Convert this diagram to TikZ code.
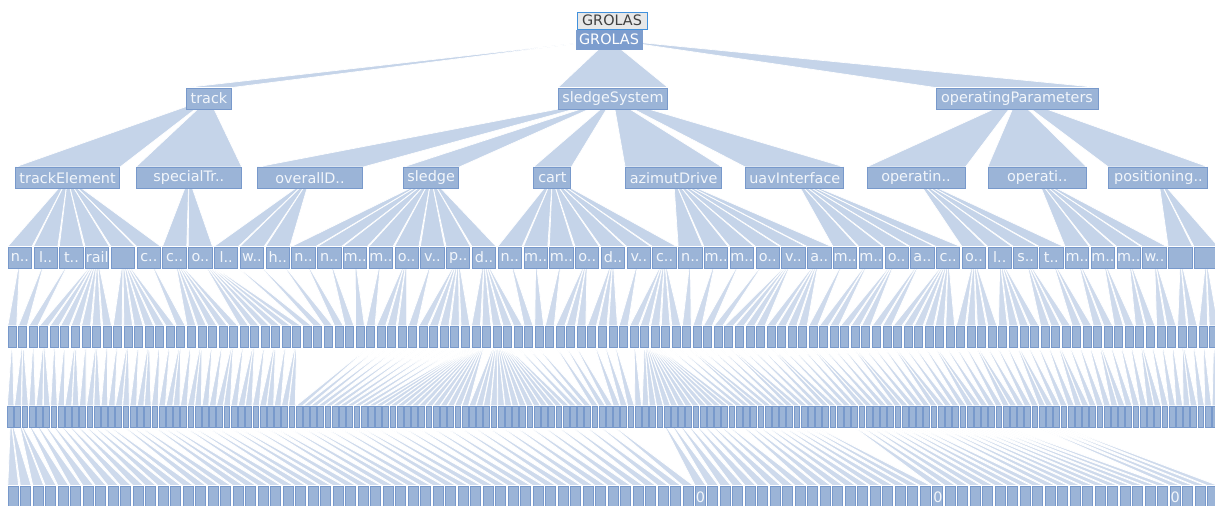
\documentclass[tikz,border=0pt]{standalone}
\usepackage{fontspec}
\setmainfont{DejaVu Sans}
\usetikzlibrary{backgrounds}

\definecolor{nodefill}{RGB}{155,180,215}
\definecolor{nodeline}{RGB}{120,153,203}
\definecolor{linkfill}{RGB}{197,212,233}
\definecolor{rootfill}{RGB}{124,157,206}
\definecolor{tipfill}{RGB}{232,232,232}
\definecolor{tipline}{RGB}{66,145,220}
\definecolor{nodetext}{RGB}{242,246,251}

\tikzset{
  tbox/.style={draw=nodeline,fill=nodefill,text=nodetext,line width=0.7pt,inner sep=0pt,
    font=\fontsize{10.8}{12}\selectfont,minimum height=#1},
  tbox/.default=15.75pt,
  link/.style={fill=linkfill,draw=white,line width=0.5pt},
  thinlink/.style={fill=linkfill!85!white,draw=white,line width=0.6pt},
}

\newcount\kid
% wedges from every parent to its children, counts given in order
\newcommand\fanout[4][link]{%
  \global\kid=0
  \foreach \c [count=\p from 0] in {#4} {
    \ifnum\c>0
    \foreach \k in {1,...,\c} {
      \edef\q{\the\kid}
      \fill[#1] (#2-\p.center) -- (#3-\q.north west) -- (#3-\q.north east) -- cycle;
      \global\advance\kid by 1
    }
    \fi
  }
}

\begin{document}
\begin{tikzpicture}[x=0.75pt,y=-0.75pt]
\useasboundingbox (0,0) rectangle (1215,506);

\node[draw=tipline,fill=tipfill,text=black!75,font=\fontsize{10.8}{12}\selectfont,
  minimum width=52.5pt,minimum height=13pt,inner sep=0pt] (tip) at (612,20.5) {GROLAS};
\node[tbox=14.25pt,fill=rootfill,draw=rootfill,text=white,minimum width=49.5pt] (root) at (609,39.5) {GROLAS};

\foreach \lab/\w [count=\i from 0] in {track/45,sledgeSystem/109,operatingParameters/162} {
  \pgfmathsetmacro\xx{7+1212/3*(\i+0.5)}
  \node[tbox,minimum width=\w*0.75pt] (a-\i) at (\xx,98.5) {\lab};
}

\foreach \lab/\w [count=\i from 0] in {trackElement/104,specialTr../105,overallD../105,sledge/55,cart/37,
    azimutDrive/96,uavInterface/98,operatin../98,operati../98,positioning../99} {
  \pgfmathsetmacro\xx{7+1212/10*(\i+0.5)}
  \node[tbox,minimum width=\w*0.75pt] (b-\i) at (\xx,178) {\lab};
}

\foreach \lab [count=\i from 0] in {n..,l..,t..,rail,{},c..,c..,o..,l..,w..,h..,n..,n..,m..,m..,o..,v..,p..,d..,
    n..,m..,m..,o..,d..,v..,c..,n..,m..,m..,o..,v..,a..,m..,m..,o..,a..,c..,o..,l..,s..,t..,m..,m..,m..,w..,{},{}} {
  \pgfmathsetmacro\xx{7+1212/47*(\i+0.5)}
  \node[tbox,minimum width=17.5pt] (c-\i) at (\xx,257.5) {\lab};
}

\foreach \i in {0,...,114} {
  \pgfmathsetmacro\xx{7+1212/115*(\i+0.5)}
  \node[tbox=16pt,minimum width=6pt] (d-\i) at (\xx,337) {};
}

\foreach \i in {0,...,167} {
  \pgfmathsetmacro\xx{7+1212/168*(\i+0.5)}
  \node[tbox=16pt,minimum width=4.3pt] (e-\i) at (\xx,417) {};
}

\foreach \i in {0,...,96} {
  \pgfmathsetmacro\xx{7+1212/97*(\i+0.5)}
  \ifnum\i=55 \def\lab{0}\else\ifnum\i=74 \def\lab{0}\else\ifnum\i=93 \def\lab{0}\else\def\lab{}\fi\fi\fi
  \node[tbox=16.5pt,minimum width=7.5pt] (f-\i) at (\xx,497) {\lab};
}

\begin{pgfonlayer}{background}
\foreach \i in {0,1,2}
  \fill[link] (root.center) -- (a-\i.north west) -- (a-\i.north east) -- cycle;
\fanout{a}{b}{2,5,3}
\fanout{b}{c}{6,2,3,8,7,6,5,4,4,2}
\fanout[thinlink]{c}{d}{1,1,1,7,6,1,5,6,1,1,1,1,1,1,1,3,1,5,5,1,1,1,3,3,1,5,1,1,1,1,4,4,1,2,3,2,6,4,4,3,2,2,2,2,2,2,2}
\fanout[thinlink]{d}{e}{1,2,1,2,1,1,2,1,2,1,1,2,1,2,1,1,2,1,2,1,1,2,1,2,1,2,1,2,
  0,0,0,0,0,0,0,1,1,1,1,1,1,1,1,1,1,14,14,1,1,1,0,1,1,1,0,1,1,1,0,1,13,
  1,1,2,1,1,1,2,1,1,1,2,1,1,1,2,1,1,1,2,1,1,1,2,1,1,1,2,1,1,1,2,1,1,1,2,1,1,1,2,1,1,1,2,1,1,1,2,1,1,1,2,1,1,1}
% last level: four runs of children, each spread over a run of parents
\foreach \ps/\pe/\cs/\n/\ex in {0/82/0/55/1.4,90/109/55/19/1,115/134/74/19/1,139/142/93/4/1} {
  \foreach \k in {1,...,\n} {
    \pgfmathtruncatemacro\pp{\ps+round((\pe-\ps)*pow((\k-1)/(\n-1),\ex))}
    \pgfmathtruncatemacro\cc{\cs+\k-1}
    \fill[thinlink] (e-\pp.center) -- (f-\cc.north west) -- (f-\cc.north east) -- cycle;
  }
}
\end{pgfonlayer}
\end{tikzpicture}
\end{document}
